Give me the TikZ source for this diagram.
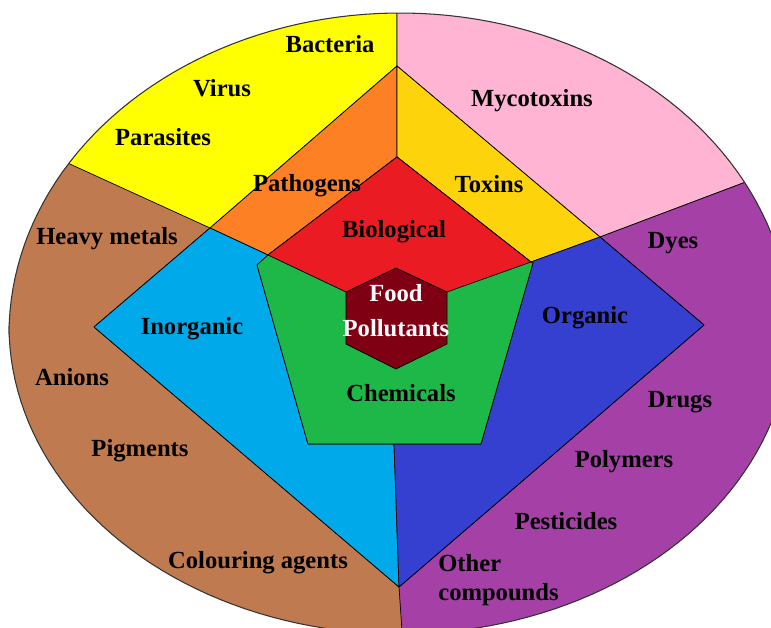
\documentclass[tikz,border=0pt]{standalone}
\usepackage{fontspec}
\setmainfont{Liberation Serif}
\usepackage{tikz}
\definecolor{RingYellow}{HTML}{FFFF00}
\definecolor{RingPink}{HTML}{FEB4D2}
\definecolor{RingPurple}{HTML}{A440A6}
\definecolor{RingBrown}{HTML}{C07A50}
\definecolor{MidOrange}{HTML}{FD8024}
\definecolor{MidGold}{HTML}{FDD40B}
\definecolor{MidSky}{HTML}{00AAEA}
\definecolor{MidBlue}{HTML}{3540D0}
\definecolor{CoreGreen}{HTML}{1EB848}
\definecolor{CoreRed}{HTML}{EB1B23}
\definecolor{HubRed}{HTML}{7F0012}

\begin{document}
\begin{tikzpicture}[x=0.02cm, y=-0.02cm,
  region/.style={draw=black, line width=0.4pt, line join=round},
  rim/.style={draw=black!80, line width=0.6pt},
  lbl/.style={font=\fontsize{14}{16.5}\selectfont\bfseries, inner sep=0pt}]
  \useasboundingbox (0,0) rectangle (771,628);

  % outer ring, cut into four sectors
  \begin{scope}
    \clip plot[domain=180:360, samples=90] ({400+391*cos(\x)}, {334+321*sin(\x)})
      -- plot[domain=0:180, samples=90] ({400+391*cos(\x)}, {326+308*sin(\x)}) -- cycle;
    \fill[RingBrown] (-20,-20) rectangle (820,660);
    \draw[region, fill=RingYellow] (397,-20) -- (397,66) -- (210,228) -- (-20,123) -- (-20,-20) -- cycle;
    \draw[region, fill=RingPink] (397,-20) -- (397,66) -- (600,237) -- (820,154) -- (820,-20) -- cycle;
    \draw[region, fill=RingPurple] (820,154) -- (600,237) -- (704,325) -- (399,587) -- (404,660) -- (820,660) -- cycle;
    \draw[region] (399,587) -- (94,327) -- (210,228);
  \end{scope}
  \draw[rim] plot[domain=180:360, samples=90] ({400+391*cos(\x)}, {334+321*sin(\x)})
    -- plot[domain=0:180, samples=90] ({400+391*cos(\x)}, {326+308*sin(\x)}) -- cycle;

  % middle layer
  \draw[region, fill=MidOrange] (397,66) -- (210,228) -- (268,255) -- (397,157) -- cycle;
  \draw[region, fill=MidGold] (397,66) -- (600,237) -- (531,262) -- (397,157) -- cycle;
  \draw[region, fill=MidSky] (210,228) -- (94,327) -- (399,587) -- (394,444) -- (308,444) -- (257,265) -- (268,255) -- cycle;
  \draw[region, fill=MidBlue] (600,237) -- (704,325) -- (399,587) -- (394,444) -- (481,444) -- (533,263) -- (531,262) -- cycle;

  % core
  \draw[region, fill=CoreGreen] (257,265) -- (268,255) -- (397,157) -- (531,262) -- (533,263) -- (481,444) -- (308,444) -- cycle;
  \draw[region, fill=CoreRed] (397,157) -- (268,255) -- (346,292) -- (396,300) -- (447,292) -- (531,262) -- cycle;
  \draw[region, fill=HubRed] (396,268) -- (447,292) -- (447,344) -- (396,369) -- (346,344) -- (346,292) -- cycle;

  % labels
  \node[lbl, text=white, align=center, font=\fontsize{14}{20}\selectfont\bfseries] (hub) at (396,311) {Food\\Pollutants};
  \node[lbl] (bio) at (394,232) {Biological};
  \node[lbl] (chem) at (401,393) {Chemicals};
  \node[lbl] (patho) at (307,186) {Pathogens};
  \node[lbl] (toxins) at (489,184) {Toxins};
  \node[lbl] (inorg) at (192,329) {Inorganic};
  \node[lbl] (org) at (585,318) {Organic};
  \node[lbl] (bact) at (330,44) {Bacteria};
  \node[lbl] (virus) at (222,88) {Virus};
  \node[lbl] (para) at (163,137) {Parasites};
  \node[lbl] (myco) at (532,101) {Mycotoxins};
  \node[lbl] (heavy) at (107,239) {Heavy metals};
  \node[lbl] (anion) at (72,377) {Anions};
  \node[lbl] (pigm) at (140,451) {Pigments};
  \node[lbl] (colour) at (258,563) {Colouring agents};
  \node[lbl] (dyes) at (673,243) {Dyes};
  \node[lbl] (drugs) at (680,402) {Drugs};
  \node[lbl] (poly) at (624,462) {Polymers};
  \node[lbl] (pest) at (566,521) {Pesticides};
  \node[lbl, align=left, anchor=west] (other) at (438,580) {Other\\compounds};
\end{tikzpicture}
\end{document}
